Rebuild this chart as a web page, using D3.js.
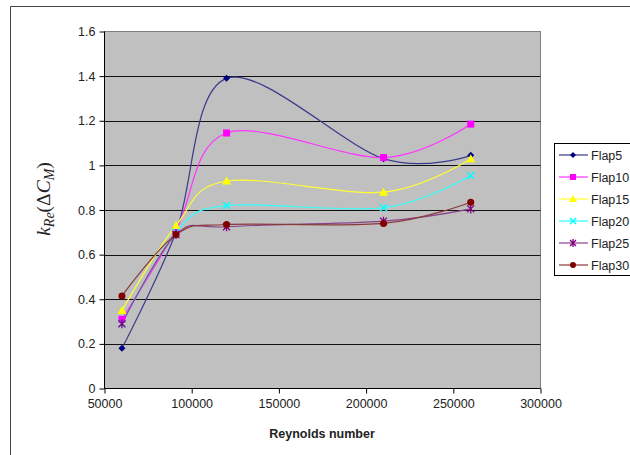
<!DOCTYPE html>
<html lang="en">
<head>
  <meta charset="UTF-8">
  <title>k_Re vs Reynolds number</title>
  <script src="https://d3js.org/d3.v7.min.js"></script>
  <style>
    body { margin: 0; padding: 0; background: #fff; overflow: hidden; }
    svg { display: block; }
    .tick text { font-family: "Liberation Sans", Arial, sans-serif; font-size: 12.5px; fill: #222; }
  </style>
</head>
<body>
  <svg id="chart" width="630" height="455"></svg>
  <script>
    // —— data ——
    const reynolds = [60000, 91000, 120000, 210000, 260000];
    const flap5  = [0.18, 0.70, 1.39, 1.03, 1.045];
    const flap10 = [0.31, 0.71, 1.145, 1.035, 1.185];
    const flap15 = [0.35, 0.73, 0.93, 0.88, 1.03];
    const flap20 = [0.29, 0.70, 0.82, 0.81, 0.955];
    const flap25 = [0.29, 0.69, 0.725, 0.75, 0.805];
    const flap30 = [0.415, 0.69, 0.735, 0.74, 0.835];
    const seriesNames = ["Flap5", "Flap10", "Flap15", "Flap20", "Flap25", "Flap30"];
    const xTicks = [50000, 100000, 150000, 200000, 250000, 300000];
    const yTicks = [0, 0.2, 0.4, 0.6, 0.8, 1, 1.2, 1.4, 1.6];

    const series = [
      {name: seriesNames[0], values: flap5,  color: "#000080", line: "#3a3a8c", marker: "diamond"},
      {name: seriesNames[1], values: flap10, color: "#ff00ff", line: "#ff33ff", marker: "square"},
      {name: seriesNames[2], values: flap15, color: "#ffff00", line: "#ffff33", marker: "triangle"},
      {name: seriesNames[3], values: flap20, color: "#00ffff", line: "#33ffff", marker: "cross"},
      {name: seriesNames[4], values: flap25, color: "#800080", line: "#8a408a", marker: "star"},
      {name: seriesNames[5], values: flap30, color: "#800000", line: "#8a3a3a", marker: "circle"}
    ];

    const svg = d3.select("#chart");
    const plot = {left: 104.5, right: 540.5, top: 31.5, bottom: 388.5};

    // outer chart frame
    svg.append("path")
      .attr("d", "M10.5,455 V6.5 H630")
      .attr("fill", "none").attr("stroke", "#444").attr("stroke-width", 1);

    const x = d3.scaleLinear().domain([50000, 300000]).range([plot.left, plot.right]);
    const y = d3.scaleLinear().domain([0, 1.6]).range([plot.bottom, plot.top]);

    svg.append("rect")
      .attr("x", plot.left).attr("y", plot.top)
      .attr("width", plot.right - plot.left).attr("height", plot.bottom - plot.top)
      .attr("fill", "#c0c0c0").attr("stroke", "#808080");

    // gridlines
    svg.append("g").selectAll("line")
      .data(yTicks.filter(d => d > 0 && d < 1.6)).join("line")
      .attr("x1", plot.left).attr("x2", plot.right)
      .attr("y1", d => Math.round(y(d)) + 0.5).attr("y2", d => Math.round(y(d)) + 0.5)
      .attr("stroke", "#111").attr("stroke-width", 1);

    // axes
    const yAxis = svg.append("g")
      .attr("transform", `translate(${plot.left},0)`)
      .call(d3.axisLeft(y).tickValues(yTicks).tickSize(5).tickPadding(4).tickFormat(d3.format("")));
    const xAxis = svg.append("g")
      .attr("transform", `translate(0,${plot.bottom})`)
      .call(d3.axisBottom(x).tickValues(xTicks).tickSize(5).tickPadding(6).tickFormat(d3.format("d")));
    [yAxis, xAxis].forEach(g => {
      g.select(".domain").attr("stroke", "#000");
      g.selectAll(".tick line").attr("stroke", "#000");
    });
    xAxis.select(".domain").attr("d", `M${plot.left},0H${plot.right}`);
    yAxis.select(".domain").attr("d", `M0,${plot.bottom}V${plot.top}`);

    // axis titles
    svg.append("text")
      .attr("x", 322).attr("y", 438)
      .attr("text-anchor", "middle")
      .attr("font-family", "Liberation Sans, Arial, sans-serif")
      .attr("font-size", 12.5).attr("font-weight", "bold").attr("fill", "#222")
      .text("Reynolds number");

    const yt = svg.append("text")
      .attr("transform", "translate(50,199) rotate(-90)")
      .attr("text-anchor", "middle")
      .attr("font-family", "Liberation Serif, Times New Roman, serif")
      .attr("font-size", 19.5).attr("fill", "#222");
    yt.append("tspan").attr("font-style", "italic").text("k");
    yt.append("tspan").attr("font-style", "italic").attr("font-size", 14).attr("dy", 4).text("Re");
    yt.append("tspan").attr("dy", -4).text("(\u0394");
    yt.append("tspan").attr("font-style", "italic").text("C");
    yt.append("tspan").attr("font-style", "italic").attr("font-size", 14).attr("dy", 4).text("M");
    yt.append("tspan").attr("dy", -4).text(")");

    // markers
    function drawMarker(g, type, color, size) {
      const s = size;
      if (type === "diamond") {
        g.append("path").attr("d", `M0,${-s}L${s},0L0,${s}L${-s},0Z`).attr("fill", color);
      } else if (type === "square") {
        g.append("rect").attr("x", -s).attr("y", -s).attr("width", 2 * s).attr("height", 2 * s).attr("fill", color);
      } else if (type === "triangle") {
        g.append("path").attr("d", `M0,${-s - 1}L${s + 1},${s}L${-s - 1},${s}Z`).attr("fill", color);
      } else if (type === "cross") {
        g.append("path").attr("d", `M${-s},${-s}L${s},${s}M${s},${-s}L${-s},${s}`)
          .attr("stroke", color).attr("stroke-width", 1.5);
      } else if (type === "star") {
        g.append("path").attr("d", `M${-s},${-s}L${s},${s}M${s},${-s}L${-s},${s}M0,${-s - 1}V${s + 1}`)
          .attr("stroke", color).attr("stroke-width", 1.3);
      } else {
        g.append("circle").attr("r", s).attr("fill", color);
      }
    }

    const line = d3.line()
      .x((d, i) => x(reynolds[i]))
      .y(d => y(d))
      .curve(d3.curveCardinal.tension(0));

    const seriesG = svg.append("g");
    series.forEach(s => {
      seriesG.append("path")
        .attr("d", line(s.values))
        .attr("fill", "none").attr("stroke", s.line).attr("stroke-width", 1.2);
    });
    series.forEach(s => {
      s.values.forEach((v, i) => {
        const g = seriesG.append("g").attr("transform", `translate(${x(reynolds[i])},${y(v)})`);
        drawMarker(g, s.marker, s.color, 3.5);
      });
    });

    // legend
    const legend = svg.append("g");
    legend.append("rect")
      .attr("x", 554.5).attr("y", 143.5).attr("width", 90).attr("height", 132)
      .attr("fill", "#fff").attr("stroke", "#000");
    series.forEach((s, i) => {
      const ly = 155 + i * 22;
      legend.append("line")
        .attr("x1", 559).attr("x2", 588).attr("y1", ly).attr("y2", ly)
        .attr("stroke", s.line).attr("stroke-width", 1.2);
      drawMarker(legend.append("g").attr("transform", `translate(573,${ly})`), s.marker, s.color, 3);
      legend.append("text")
        .attr("x", 591).attr("y", ly + 4.5)
        .attr("font-family", "Liberation Sans, Arial, sans-serif")
        .attr("font-size", 12.5).attr("fill", "#222")
        .text(s.name);
    });
  </script>
</body>
</html>
